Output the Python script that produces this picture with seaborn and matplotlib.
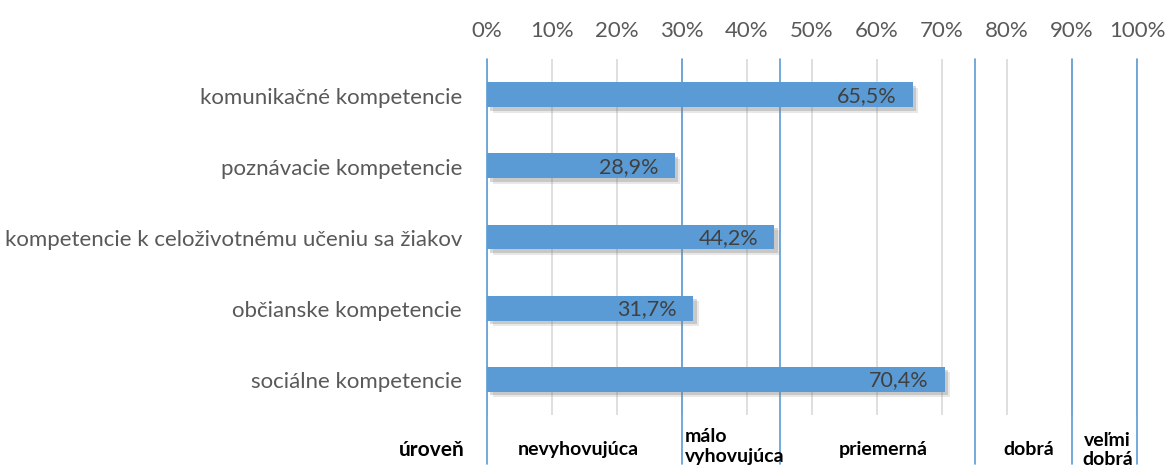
import matplotlib
matplotlib.use("Agg")
import matplotlib.pyplot as plt
import matplotlib.patheffects as pe
import numpy as np
import pandas as pd
import seaborn as sns

# data
categories = [
    "komunikačné kompetencie",
    "poznávacie kompetencie",
    "kompetencie k celoživotnému učeniu sa žiakov",
    "občianske kompetencie",
    "sociálne kompetencie",
]
values = [65.5, 28.9, 44.2, 31.7, 70.4]
value_labels = ["65,5%", "28,9%", "44,2%", "31,7%", "70,4%"]
tick_values = [0, 10, 20, 30, 40, 50, 60, 70, 80, 90, 100]

# level boundaries (blue lines) and level names
level_bounds = [0, 30, 45, 75, 90, 100]
level_names = ["nevyhovujúca", "málo\nvyhovujúca", "priemerná", "dobrá", "veľmi\ndobrá"]
level_centers = [14, None, 61, 83.4, 95.5]

BAR_COLOR = "#5B9BD5"
TEXT_GRAY = "#595959"

sns.set_theme(style="white")
plt.rcParams["font.family"] = ["Lato", "DejaVu Sans"]

df = pd.DataFrame({"kategoria": categories, "hodnota": values})

fig = plt.figure(figsize=(11.67, 4.77), dpi=100)
ax = fig.add_axes([487 / 1167, 1 - 416 / 477, 650 / 1167, 356 / 477])

sns.barplot(data=df, x="hodnota", y="kategoria", orient="h", color=BAR_COLOR,
            saturation=1, width=0.35, linewidth=0, ax=ax, zorder=3)

# soft drop shadow like the office chart
for patch in ax.patches:
    patch.set_path_effects([
        pe.SimplePatchShadow(offset=(4, -4), shadow_rgbFace="#808080", alpha=0.18),
        pe.SimplePatchShadow(offset=(2.5, -2.5), shadow_rgbFace="#808080", alpha=0.3),
        pe.Normal(),
    ])

for i, (v, lab) in enumerate(zip(values, value_labels)):
    ax.text(v - 2.5, i, lab, ha="right", va="center", fontsize=15.5,
            color="#404040", zorder=5)

ax.set_xlim(0, 100)
ax.set_ylim(4.5, -0.5)
ax.set_xticks(tick_values)
ax.set_xticklabels([f"{t}%" for t in tick_values], fontsize=16, color=TEXT_GRAY)
ax.xaxis.tick_top()
ax.tick_params(axis="x", length=0, pad=14)
ax.tick_params(axis="y", length=0, pad=18, labelsize=16, labelcolor=TEXT_GRAY)
ax.set_xlabel("")
ax.set_ylabel("")
ax.grid(axis="x", color="#d9d9d9", linewidth=1.2, zorder=0)
ax.grid(axis="y", visible=False)
for s in ax.spines.values():
    s.set_visible(False)

# level boundaries extend below the plot area
for b in level_bounds:
    ax.axvline(b, ymin=-0.138, ymax=1.0, color=BAR_COLOR, linewidth=1.2,
               clip_on=False, zorder=2)

# level names under the chart
trans = ax.get_xaxis_transform()
ytxt = -0.095
ax.text(-3.4, ytxt, "úroveň", transform=trans, ha="right",
        va="center", fontsize=15, fontweight="bold", color="black")
for k, name in enumerate(level_names):
    if level_centers[k] is None:
        ax.text(level_bounds[k] + 0.4, -0.035, name, transform=trans,
                ha="left", va="top", fontsize=14, fontweight="bold",
                color="black", linespacing=1.2)
    else:
        ax.text(level_centers[k], ytxt, name, transform=trans,
                ha="center", va="center", fontsize=14, fontweight="bold",
                color="black", linespacing=1.1)

fig.savefig("out.png", dpi=100)
